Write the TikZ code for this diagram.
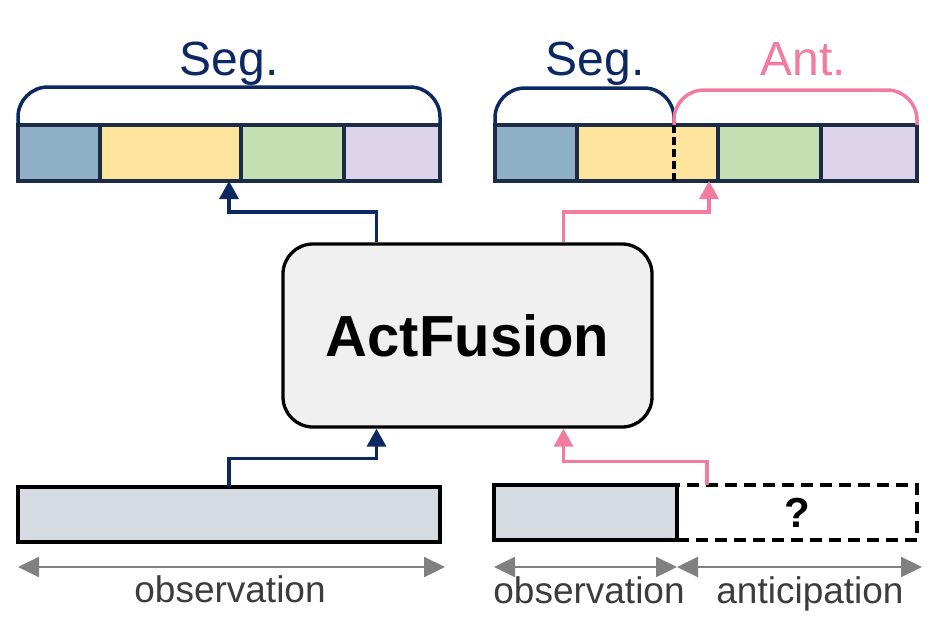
\documentclass[tikz,border=0pt]{standalone}
\usepackage{fontspec}
\setmainfont{Liberation Sans}
\usepackage{tikz}
\definecolor{navy}{RGB}{12, 40, 98}
\definecolor{rim}{RGB}{28, 43, 70}
\definecolor{pinkish}{RGB}{242, 124, 160}
\definecolor{segblue}{RGB}{143, 176, 198}
\definecolor{segyellow}{RGB}{253, 229, 158}
\definecolor{seggreen}{RGB}{198, 224, 180}
\definecolor{segpurple}{RGB}{221, 212, 235}
\definecolor{obsfill}{RGB}{214, 219, 226}
\definecolor{boxfill}{RGB}{240, 240, 240}
\definecolor{spangray}{RGB}{128, 128, 128}
\definecolor{labelgray}{RGB}{60, 60, 60}
\usetikzlibrary{arrows.meta}

\begin{document}
\begin{tikzpicture}[
segbox/.style={rectangle, minimum height=56pt, inner sep=0pt, outer sep=0pt, line width=3.3pt, draw=rim},
obsbox/.style={rectangle, minimum height=55pt, inner sep=0pt, outer sep=0pt, line width=3.3pt, draw=black, fill=obsfill},
navyline/.style={line width=3.5pt, color=navy, -{Triangle[width=19pt, length=18pt]}},
pinkline/.style={line width=3.5pt, color=pinkish, -{Triangle[width=19pt, length=18pt]}},
brace/.style={line width=3.5pt, rounded corners=30pt},
spanarrow/.style={line width=2.2pt, color=spangray, {Triangle[width=20pt, length=21pt]}-{Triangle[width=20pt, length=21pt]}},
headtext/.style={anchor=base, inner sep=0pt, font=\fontsize{48}{50}\selectfont},
spantext/.style={anchor=base, inner sep=0pt, text=labelgray, font=\fontsize{37}{40}\selectfont}]
\useasboundingbox (0pt, 0pt) rectangle (938pt, -632pt);
% top left: segmentation output
\node (l1) [segbox, fill=segblue, minimum width=82pt] at (59pt, -153pt) {};
\node (l2) [segbox, fill=segyellow, minimum width=141pt] at (170.5pt, -153pt) {};
\node (l3) [segbox, fill=seggreen, minimum width=103pt] at (292.5pt, -153pt) {};
\node (l4) [segbox, fill=segpurple, minimum width=96pt] at (392pt, -153pt) {};
\draw [brace, color=navy] (l1.north west) |- ([yshift=38pt]l4.north east) -- (l4.north east);
\node (segL) [headtext, text=navy] at (229pt, -75pt) {Seg.};
\coordinate (hitL) at (229pt, -181pt);
% top right: segmentation + anticipation output
\node (r1) [segbox, fill=segblue, minimum width=82pt] at (536pt, -153pt) {};
\node (r2) [segbox, fill=segyellow, minimum width=141pt] at (647.5pt, -153pt) {};
\node (r3) [segbox, fill=seggreen, minimum width=103pt] at (769.5pt, -153pt) {};
\node (r4) [segbox, fill=segpurple, minimum width=96pt] at (869pt, -153pt) {};
\coordinate (cut) at (674pt, -125pt);
\draw [line width=3.5pt, color=black, dash pattern=on 8pt off 4pt] (cut) -- (cut |- r2.south);
\draw [brace, color=navy] (r1.north west) |- ([yshift=37pt]cut) -- (cut);
\draw [brace, color=pinkish] (cut) |- ([yshift=35pt]r4.north east) -- (r4.north east);
\node (segR) [headtext, text=navy] at (595pt, -75pt) {Seg.};
\node (antR) [headtext, text=pinkish] at (803pt, -75pt) {Ant.};
\coordinate (hitR) at (709pt, -181pt);
% model
\node (fusion) [rectangle, rounded corners=30pt, minimum width=369pt, minimum height=183pt, fill=boxfill, line width=3.3pt, draw=black, font=\fontsize{58}{60}\selectfont\bfseries] at (467.5pt, -335.5pt) {ActFusion};
% bottom inputs
\node (obsL) [obsbox, minimum width=422pt] at (229pt, -514.5pt) {};
\node (future) [rectangle, minimum width=240pt, minimum height=55pt, inner sep=0pt, outer sep=0pt, line width=3.3pt, draw=black, dash pattern=on 12pt off 7pt, font=\fontsize{42}{44}\selectfont\bfseries] at (797pt, -512.5pt) {?};
\node (obsR) [obsbox, minimum width=183pt] at (585.5pt, -512.5pt) {};
% connectors
\draw [navyline] ([xshift=-91pt]fusion.north) |- ([yshift=-31pt]hitL) -- (hitL);
\draw [pinkline] ([xshift=96pt]fusion.north) |- ([yshift=-31pt]hitR) -- (hitR);
\draw [navyline] (obsL.north) |- ([xshift=-91pt, yshift=-30pt]fusion.south) -- ([xshift=-91pt]fusion.south);
\draw [pinkline] ([xshift=30pt]future.north west) |- ([xshift=96pt, yshift=-33pt]fusion.south) -- ([xshift=96pt]fusion.south);
% spans
\draw [spanarrow] ([yshift=-25pt]obsL.south west) -- ([xshift=5pt, yshift=-25pt]obsL.south east);
\draw [spanarrow] ([yshift=-27pt]obsR.south west) -- ([yshift=-27pt]obsR.south east);
\draw [spanarrow] ([yshift=-27pt]future.south west) -- ([xshift=5pt, yshift=-27pt]future.south east);
\node (obsTextL) [spantext] at (230pt, -602pt) {observation};
\node (obsTextR) [spantext] at (589pt, -603pt) {observation};
\node (antText) [spantext] at (810pt, -603pt) {anticipation};
\end{tikzpicture}
\end{document}
